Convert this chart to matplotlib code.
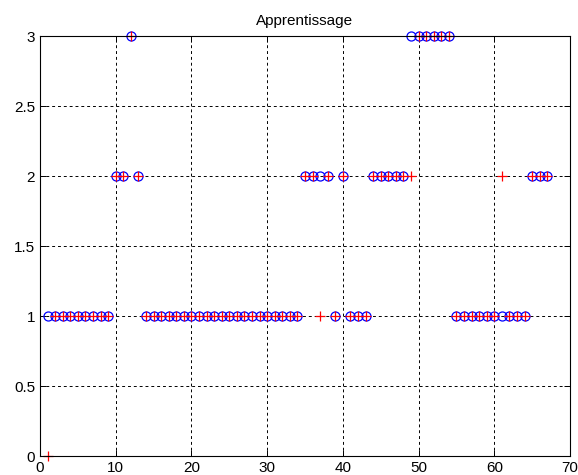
"""Apprentissage: target classes (o) vs predicted classes (+)."""

import matplotlib
matplotlib.use("Agg")
import matplotlib.pyplot as plt
import numpy as np

# sample index 1..67
samples = np.arange(1, 68)

# target class per sample (blue circles)
target = [
    1, 1, 1, 1, 1, 1, 1, 1, 1, 2,
    2, 3, 2, 1, 1, 1, 1, 1, 1, 1,
    1, 1, 1, 1, 1, 1, 1, 1, 1, 1,
    1, 1, 1, 1, 2, 2, 2, 2, 1, 2,
    1, 1, 1, 2, 2, 2, 2, 2, 3, 3,
    3, 3, 3, 3, 1, 1, 1, 1, 1, 1,
    1, 1, 1, 1, 2, 2, 2,
]

# predicted class per sample (red pluses)
predicted = [
    0, 1, 1, 1, 1, 1, 1, 1, 1, 2,
    2, 3, 2, 1, 1, 1, 1, 1, 1, 1,
    1, 1, 1, 1, 1, 1, 1, 1, 1, 1,
    1, 1, 1, 1, 2, 2, 1, 2, 1, 2,
    1, 1, 1, 2, 2, 2, 2, 2, 2, 3,
    3, 3, 3, 3, 1, 1, 1, 1, 1, 1,
    2, 1, 1, 1, 2, 2, 2,
]

plt.rcParams["font.family"] = ["Liberation Sans", "DejaVu Sans"]
plt.rcParams["font.size"] = 11

fig = plt.figure(figsize=(5.78, 4.75), dpi=100)
ax = fig.add_axes([40 / 578, 19 / 475, 530 / 578, 420 / 475])

ax.plot(samples, target, "o", color="blue", markerfacecolor="none",
        markersize=6.5, markeredgewidth=0.9, clip_on=False)
ax.plot(samples, predicted, "+", color="red",
        markersize=7, markeredgewidth=0.9, clip_on=False)

ax.set_xlim(0, 70)
ax.set_ylim(0, 3)
ax.set_xticks(np.arange(0, 71, 10))
ax.set_yticks(np.arange(0, 3.01, 0.5))
ax.set_yticklabels(["0", "0.5", "1", "1.5", "2", "2.5", "3"])
ax.set_title("Apprentissage", fontsize=11, pad=8)

ax.grid(True, color="black", linestyle=(0, (3, 3)), linewidth=0.7)
ax.tick_params(direction="in", top=True, right=True, length=4,
               width=0.7, labelsize=11, pad=3.5)
for spine in ax.spines.values():
    spine.set_linewidth(0.8)

fig.savefig("out.png", dpi=100)
